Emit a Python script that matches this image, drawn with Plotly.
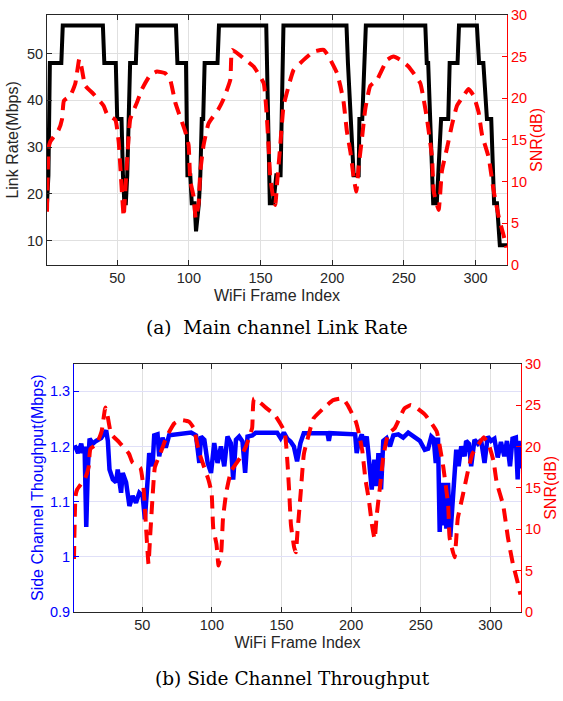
import plotly.graph_objects as go

# ---------------- data ----------------
# Link rate (Mbps), main channel, step curve
rate_frame = [1, 2, 3, 11, 12, 40, 41, 49, 50, 53, 54, 55, 56, 57, 58, 59, 63, 64,
              91, 92, 98, 99, 101, 102, 104, 105, 107, 108, 109, 110, 111, 120, 121,
              154, 156.5, 159, 161, 164, 166, 210, 211, 213, 215, 218.5, 219, 221, 223.5,
              265, 266, 267, 270.5, 273, 276, 281, 282, 287.5, 288.5, 301, 302.5, 305.5,
              308, 311, 313, 315, 316, 317, 322]
rate_mbps = [18, 24, 48, 48, 56, 56, 48, 48, 36, 36, 24, 18, 18, 24, 36, 48, 48, 56,
             56, 48, 48, 24, 24, 18, 18, 12, 18, 24, 36, 36, 48, 48, 56,
             56, 18, 18, 24, 24, 56, 56, 48, 36, 24, 24, 36, 36, 56,
             56, 48, 48, 18, 18, 36, 36, 48, 48, 56, 56, 48, 48,
             36, 36, 18, 18, 12, 9, 9]

# SNR (dB)
snr_frame = [1, 2.1, 3.3, 9.1, 11.5, 12.8, 17.3, 20.8, 23.5, 25, 27.7, 33.5, 40.5, 42.9,
             48.7, 51, 52.2, 54.5, 55.6, 57.3, 59.1, 63.8, 67.3, 73.1, 77.8, 83.5, 87,
             90.5, 92.8, 97.5, 99.8, 101, 103.3, 104.8, 106.8, 108, 110.3, 113.8, 120.7,
             124.2, 128.9, 130.3, 139.4, 145.2, 152.2, 154.5, 155.7, 156.8, 159.1, 160.3,
             161.5, 163.8, 166.1, 170.8, 173.1, 180.1, 187.1, 194.1, 197.5, 203.4, 205.7,
             208, 210.3, 212.7, 215, 216.9, 218.4, 220.8, 223.1, 226.6, 231.3, 238.3,
             242.9, 247.5, 253.3, 261.5, 263.8, 266.2, 269.7, 270.8, 274.3, 276.6, 280.1,
             283.6, 287.1, 291.7, 295.2, 298.7, 302.2, 304.6, 309.2, 312.7, 316.2, 319.7,
             321.6]
snr_db = [6.4, 14.0, 14.8, 16.2, 17.5, 19.7, 20.3, 21.8, 24.7, 23.8, 21.5, 20.5, 19.1, 18.1,
          17.4, 14.8, 11.7, 5.8, 8.9, 13.6, 17.5, 19.5, 21.1, 22.8, 23.2, 23.0, 22.2,
          19.5, 18.3, 16.0, 14.4, 10.1, 8.2, 5.6, 7.4, 11.3, 14.4, 17.0, 18.7,
          19.9, 22.2, 25.8, 24.6, 23.8, 21.8, 17.5, 14.0, 10.5, 7.8, 7.2,
          9.7, 14.4, 19.1, 22.2, 23.4, 24.6, 25.6, 25.8, 25.0, 23.0, 21.5,
          19.5, 16.0, 13.6, 10.5, 8.8, 11.7, 15.2, 18.7, 21.5, 22.2, 24.6,
          25.0, 24.6, 23.8, 21.8, 19.9, 17.5, 12.9, 8.9, 6.6, 11.3, 14.0,
          16.8, 19.1, 20.3, 21.1, 20.3, 18.3, 15.6, 12.9, 8.9, 5.8, 3.5,
          2.1]

# Side channel throughput (Mbps)
thr_frame = [1.5, 3.9, 6.2, 7.4, 8.6, 9.8, 11, 12.2, 14.6, 16.9, 20.5, 24.1, 25.3, 26.5,
             28.9, 31.2, 32.4, 34.8, 36, 38.4, 40.8, 43.1, 45.5, 47.9, 50.3, 51.9, 53.9,
             55, 57.4, 58.6, 61, 62.2, 64.6, 66.9, 69.3, 75.3, 81.2, 85.1, 88.6, 91,
             92.2, 94.6, 97, 99.4, 101.7, 104.1, 106.5, 108.9, 111.2, 113.6, 115.3,
             117.3, 119.6, 122, 123.9, 125.6, 129.1, 131.5, 146.9, 149.4, 151.7, 154.1,
             156.5, 158.9, 161.2, 163.6, 166, 183, 184, 185, 202.9, 204, 205.3, 207.7,
             208.9, 211.2, 212.4, 214.8, 216.7, 218.4, 219.6, 221.5, 223.1, 225.5,
             227.9, 230.3, 233.9, 237.4, 241, 245.7, 249.4, 252.9, 255.3, 257.6, 259.3,
             260.8, 262.4, 263.6, 264.8, 266, 267.2, 268.4, 269.6, 271.2, 272.6, 273.5,
             275.5, 277.2, 279.1, 281.5, 282.6, 284.6, 286.2, 288.6, 291, 293.3, 295.8,
             298.1, 300.5, 302.9, 305.3, 307.6, 310, 311.9, 314.1, 315.9, 318.3, 319.6,
             320.3, 321]
thr_mbps = [1.202, 1.188, 1.205, 1.188, 1.2, 1.054, 1.164, 1.214, 1.205, 1.21, 1.215, 1.229,
            1.21, 1.158, 1.14, 1.135, 1.158, 1.116, 1.152, 1.135, 1.092, 1.11, 1.098,
            1.116, 1.11, 1.068, 1.14, 1.188, 1.164, 1.22, 1.222, 1.182, 1.216, 1.198,
            1.22, 1.222, 1.224, 1.225, 1.22, 1.17, 1.218, 1.212, 1.17, 1.152, 1.206,
            1.17, 1.2, 1.164, 1.218, 1.206, 1.14, 1.212, 1.218, 1.209, 1.152, 1.218,
            1.22, 1.225, 1.225, 1.215, 1.225, 1.214, 1.209, 1.2, 1.173, 1.206, 1.224,
            1.224, 1.21, 1.224, 1.222, 1.188, 1.206, 1.222, 1.2, 1.218, 1.188, 1.122,
            1.176, 1.128, 1.188, 1.122, 1.21, 1.215, 1.2, 1.22, 1.222, 1.216, 1.225,
            1.216, 1.21, 1.194, 1.196, 1.218, 1.214, 1.17, 1.216, 1.045, 1.134, 1.057,
            1.134, 1.051, 1.134, 1.036, 1.092, 1.14, 1.194, 1.164, 1.2, 1.182, 1.21,
            1.205, 1.164, 1.212, 1.205, 1.212, 1.17, 1.218, 1.21, 1.214, 1.18, 1.208,
            1.182, 1.21, 1.164, 1.214, 1.216, 1.14, 1.21, 1.16]

x_ticks = [50, 100, 150, 200, 250, 300]
rate_ticks = [10, 20, 30, 40, 50]
snr_ticks = [0, 5, 10, 15, 20, 25, 30]
thr_ticks = [0.9, 1.0, 1.1, 1.2, 1.3]
thr_tick_text = ["0.9", "1", "1.1", "1.2", "1.3"]

# ---------------- figure ----------------
W, H = 563, 701
FONT = "Liberation Sans, Arial, sans-serif"
TXT = "#262626"
RED = "#ff0000"
BLUE = "#0000ff"
DASH = "13px,8px"

fig = go.Figure()
fig.add_trace(go.Scatter(x=rate_frame, y=rate_mbps, mode="lines",
                         line=dict(color="black", width=4), xaxis="x", yaxis="y",
                         showlegend=False))
fig.add_trace(go.Scatter(x=snr_frame, y=snr_db, mode="lines",
                         line=dict(color=RED, width=4, dash=DASH, shape="spline", smoothing=0.4),
                         xaxis="x", yaxis="y2", showlegend=False))
fig.add_trace(go.Scatter(x=thr_frame, y=thr_mbps, mode="lines",
                         line=dict(color=BLUE, width=4.5), xaxis="x2", yaxis="y3",
                         showlegend=False))
fig.add_trace(go.Scatter(x=snr_frame, y=snr_db, mode="lines",
                         line=dict(color=RED, width=4, dash=DASH, shape="spline", smoothing=0.4),
                         xaxis="x2", yaxis="y4", showlegend=False))

tick_font = dict(family=FONT, size=14.5, color=TXT)
title_font = dict(family=FONT, size=16, color=TXT)

def px_x(a, b):
    return [a / W, b / W]

def px_y(top, bottom):
    return [1 - bottom / H, 1 - top / H]

common_x = dict(range=[1, 322], tickvals=x_ticks, ticks="inside", ticklen=5,
                showline=True, linecolor=TXT, linewidth=1, mirror="ticks",
                showgrid=True, gridcolor="#e0e0e0", gridwidth=1, zeroline=False,
                tickfont=tick_font, tickcolor=TXT)

fig.update_layout(
    width=W, height=H, margin=dict(l=0, r=0, t=0, b=0),
    paper_bgcolor="white", plot_bgcolor="white",
    xaxis=dict(common_x, domain=px_x(47, 507), anchor="y",
               title=dict(text="WiFi Frame Index", font=title_font, standoff=4)),
    yaxis=dict(domain=px_y(7, 263), range=[4.8, 58.3], tickvals=rate_ticks,
               ticks="inside", ticklen=5, tickcolor=TXT, showline=True, linecolor=TXT,
               linewidth=1, showgrid=True, gridcolor="#e0e0e0", zeroline=False,
               tickfont=tick_font, anchor="x",
               title=dict(text="Link Rate(Mbps)", font=title_font, standoff=4)),
    yaxis2=dict(overlaying="y", side="right", anchor="x", range=[0, 30],
                tickvals=snr_ticks, ticks="inside", ticklen=5, tickcolor=RED,
                showline=True, linecolor=RED, linewidth=1, showgrid=False,
                zeroline=False, tickfont=dict(family=FONT, size=14.5, color=RED),
                title=dict(text="SNR(dB)", font=dict(family=FONT, size=16, color=RED),
                           standoff=4)),
    xaxis2=dict(common_x, domain=px_x(74, 521), anchor="y3",
                title=dict(text="WiFi Frame Index", font=title_font, standoff=4)),
    yaxis3=dict(domain=px_y(364, 618), range=[0.9, 1.35], tickvals=thr_ticks,
                ticktext=thr_tick_text, ticks="inside", ticklen=5, tickcolor=BLUE,
                showline=True, linecolor=BLUE, linewidth=1, showgrid=True,
                gridcolor="#e0e0f8", zeroline=False, anchor="x2",
                tickfont=dict(family=FONT, size=14.5, color=BLUE),
                title=dict(text="Side Channel Thoughput(Mbps)",
                           font=dict(family=FONT, size=16, color=BLUE), standoff=2)),
    yaxis4=dict(overlaying="y3", side="right", anchor="x2", range=[0, 30],
                tickvals=snr_ticks, ticks="inside", ticklen=5, tickcolor=RED,
                showline=True, linecolor=RED, linewidth=1, showgrid=False,
                zeroline=False, tickfont=dict(family=FONT, size=14.5, color=RED),
                title=dict(text="SNR(dB)", font=dict(family=FONT, size=16, color=RED),
                           standoff=4)),
    annotations=[
        dict(text="(a)  Main channel Link Rate", x=277 / W, y=1 - 327 / H,
             xref="paper", yref="paper", showarrow=False, xanchor="center",
             yanchor="middle", font=dict(family="DejaVu Serif, serif", size=18.5, color="black")),
        dict(text="(b) Side Channel Throughput", x=292 / W, y=1 - 686 / H,
             xref="paper", yref="paper", showarrow=False, xanchor="center",
             yanchor="middle", font=dict(family="DejaVu Serif, serif", size=18.5, color="black")),
    ],
)

fig.write_html("out.html")
